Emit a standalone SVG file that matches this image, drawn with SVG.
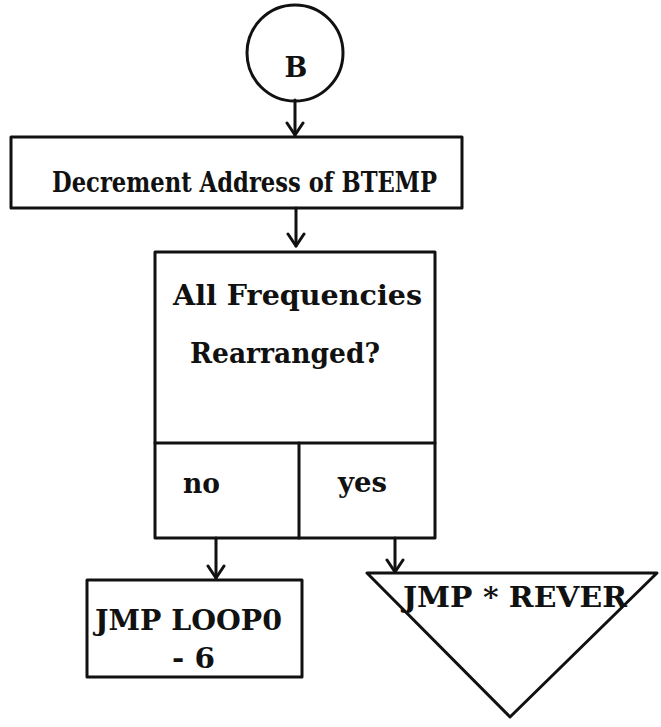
<svg xmlns="http://www.w3.org/2000/svg" width="661" height="727" viewBox="0 0 661 727">
<defs>
<style>
.s{fill:none;stroke:#111;stroke-width:3;stroke-linejoin:round;stroke-linecap:round}
.t{font-family:"DejaVu Serif","Liberation Serif",serif;font-weight:bold;font-size:27px;fill:#111}
</style>
<marker id="a" viewBox="0 0 20 20" refX="18" refY="10" markerWidth="20" markerHeight="20" markerUnits="userSpaceOnUse" orient="auto">
<path d="M6 2 L18 10 L6 18" fill="none" stroke="#111" stroke-width="3" stroke-linecap="round" stroke-linejoin="round"/>
</marker>
</defs>
<rect width="661" height="727" fill="#fff"/>
<g id="connectors">
<line class="s" x1="295" y1="100" x2="295" y2="135" marker-end="url(#a)"/>
<line class="s" x1="296" y1="208" x2="296" y2="246" marker-end="url(#a)"/>
<line class="s" x1="216" y1="538" x2="216" y2="578" marker-end="url(#a)"/>
<line class="s" x1="395" y1="538" x2="395" y2="572" marker-end="url(#a)"/>
</g>
<g id="nodeB">
<circle class="s" cx="295" cy="53" r="48"/>
<text class="t" x="296" y="77" text-anchor="middle">B</text>
</g>
<g id="decrement">
<rect class="s" x="11" y="137" width="451" height="71"/>
<text class="t" x="52" y="192" textLength="385" lengthAdjust="spacingAndGlyphs">Decrement Address of BTEMP</text>
</g>
<g id="decision">
<rect class="s" x="155" y="252" width="280" height="286"/>
<line class="s" x1="155" y1="443" x2="435" y2="443"/>
<line class="s" x1="299" y1="443" x2="299" y2="538"/>
<text class="t" x="173" y="305" textLength="249" lengthAdjust="spacingAndGlyphs">All Frequencies</text>
<text class="t" x="190" y="363" textLength="190" lengthAdjust="spacingAndGlyphs">Rearranged?</text>
<text class="t" x="183" y="493" textLength="37" lengthAdjust="spacingAndGlyphs">no</text>
<text class="t" x="338" y="492" textLength="49" lengthAdjust="spacingAndGlyphs">yes</text>
</g>
<g id="loop0">
<rect class="s" x="87" y="580" width="215" height="97"/>
<text class="t" x="95" y="630" textLength="187" lengthAdjust="spacingAndGlyphs">JMP LOOP0</text>
<text class="t" x="172" y="668" textLength="43" lengthAdjust="spacingAndGlyphs">- 6</text>
</g>
<g id="rever">
<polygon class="s" points="367,573 657,573 510,717"/>
<text class="t" x="403" y="607" textLength="224" lengthAdjust="spacingAndGlyphs">JMP * REVER</text>
</g>
</svg>
